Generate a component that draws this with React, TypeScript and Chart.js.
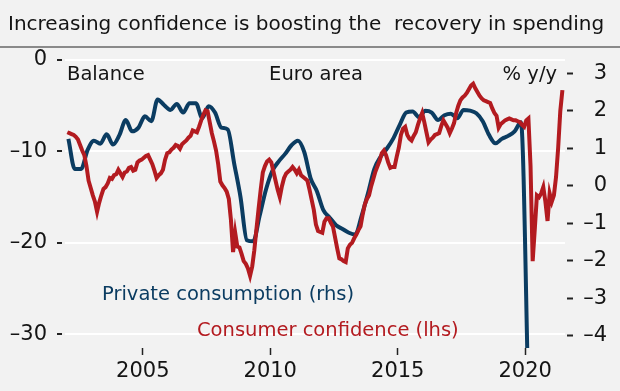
import React, { useEffect, useRef } from "react";
import { Chart, registerables } from "chart.js";

Chart.register(...registerables);

const TITLE = "Increasing confidence is boosting the  recovery in spending";
const START_YEAR = 2002;

// Euro area consumer confidence, balance, monthly from Jan 2002 (lhs)
const CONFIDENCE: number[] = [
  -7.9, -8.0, -8.1, -8.2, -8.4, -8.7, -9.3, -9.9, -10.4, -11.6, -13.2, -14.0,
  -14.8, -15.5, -16.6, -15.6, -14.8, -14.1, -13.9, -13.5, -12.9, -13.0, -12.6, -12.5,
  -12.0, -12.4, -12.8, -12.3, -12.2, -11.8, -11.7, -12.1, -12.0, -11.2, -11.0, -10.9,
  -10.7, -10.5, -10.4, -10.9, -11.4, -12.1, -12.9, -12.6, -12.4, -12.0, -10.9, -10.2,
  -10.1, -9.8, -9.6, -9.3, -9.4, -9.7, -9.2, -9.0, -8.8, -8.5, -8.3, -7.7,
  -7.8, -7.9, -7.3, -6.6, -6.0, -5.5, -5.6, -6.8, -8.0, -8.9, -9.9, -11.4,
  -13.3, -13.7, -14.0, -14.4, -15.2, -17.5, -21.0, -18.9, -20.4, -20.5, -21.2, -22.0,
  -22.3, -22.8, -23.6, -22.6, -20.8, -18.5, -16.3, -14.2, -12.3, -11.6, -11.1, -10.9,
  -11.2, -12.2, -13.2, -14.2, -15.0, -13.8, -12.9, -12.4, -12.2, -12.0, -11.7, -12.0,
  -12.4, -12.0, -12.6, -12.8, -13.0, -13.2, -14.2, -15.3, -16.4, -18.0, -18.7, -18.8,
  -18.9, -17.7, -17.3, -17.3, -17.8, -18.2, -19.4, -20.6, -21.7, -21.8, -22.0, -22.1,
  -20.6, -20.2, -20.0, -19.5, -19.1, -18.6, -18.2, -16.9, -15.8, -15.2, -14.8, -13.8,
  -13.0, -12.2, -11.6, -11.0, -10.2, -9.9, -10.4, -11.2, -11.8, -11.7, -11.7, -10.6,
  -9.6, -8.2, -7.5, -7.3, -8.2, -8.6, -8.8, -8.3, -7.9, -7.1, -6.4, -5.8,
  -6.8, -7.9, -9.0, -8.7, -8.5, -8.2, -8.1, -8.0, -7.2, -6.6, -7.0, -7.4,
  -8.0, -7.5, -6.9, -5.8, -5.0, -4.4, -4.1, -3.9, -3.6, -3.2, -2.8, -2.6,
  -3.1, -3.5, -3.9, -4.2, -4.4, -4.5, -4.6, -4.7, -5.3, -5.8, -6.1, -7.4,
  -7.0, -6.8, -6.6, -6.5, -6.4, -6.5, -6.6, -6.6, -6.7, -6.8, -7.1, -7.3,
  -6.6, -6.4, -11.6, -22.0, -18.5, -14.8, -15.0, -14.6, -13.9, -15.5, -17.6, -14.6,
  -15.5, -14.8, -12.8, -9.6, -5.6, -3.3,
];

// Euro area private consumption, % y/y, quarterly from 2002 Q1 (rhs)
const CONSUMPTION: number[] = [
  1.25, 0.45, 0.45, 0.95,
  1.2, 1.12, 1.37, 1.1,
  1.35, 1.75, 1.45, 1.55,
  1.85, 1.72, 2.3, 2.15,
  2.02, 2.18, 1.95, 2.2,
  2.2, 1.8, 2.12, 1.95,
  1.55, 1.5, 0.6, -0.3,
  -1.45, -1.48, -0.8, -0.1,
  0.4, 0.65, 0.85, 1.08,
  1.2, 0.9, 0.2, -0.15,
  -0.65, -0.85, -1.05, -1.15,
  -1.25, -1.3, -0.8, -0.2,
  0.45, 0.78, 1.0, 1.27,
  1.63, 1.95, 1.98, 1.83,
  2.0, 1.95, 1.75, 1.88,
  1.92, 1.8, 2.02, 2.0,
  1.93, 1.72, 1.35, 1.13,
  1.25, 1.33, 1.45, 1.69,
  -4.5, -14.5,
];

const X_TICKS = [2005, 2010, 2015, 2020];
const LEFT_TICKS = [0, -10, -20, -30];
const RIGHT_TICKS = [3, 2, 1, 0, -1, -2, -3, -4];

const RED = "#b31b20";
const BLUE = "#0b3c61";
const INK = "#141414";
const BG = "#f2f2f2";
const FONT = "'DejaVu Sans', 'Noto Sans', sans-serif";

const NOTES = [
  { text: "Balance", x: 67, y: 74.5, align: "left", color: INK },
  { text: "Euro area", x: 316, y: 74.5, align: "center", color: INK },
  { text: "% y/y", x: 557, y: 74.5, align: "right", color: INK },
  { text: "Private consumption (rhs)", x: 102, y: 295, align: "left", color: BLUE },
  { text: "Consumer confidence (lhs)", x: 197, y: 330.5, align: "left", color: RED },
];

const fmt = (v: number) => (v < 0 ? "\u2013" + Math.abs(v) : String(v));

const framePlugin = {
  id: "frame",
  beforeDraw(chart: any) {
    const { ctx, width, height, chartArea } = chart;
    ctx.save();
    ctx.fillStyle = BG;
    ctx.fillRect(0, 0, width, height);
    ctx.strokeStyle = "#8a8a8a";
    ctx.lineWidth = 2;
    ctx.beginPath();
    ctx.moveTo(0, chartArea.top - 13);
    ctx.lineTo(width, chartArea.top - 13);
    ctx.stroke();
    ctx.restore();
  },
};

const notesPlugin = {
  id: "notes",
  afterDatasetsDraw(chart: any) {
    const { ctx } = chart;
    ctx.save();
    ctx.font = `19.5px ${FONT}`;
    ctx.textBaseline = "middle";
    for (const n of NOTES) {
      ctx.fillStyle = n.color;
      ctx.textAlign = n.align as CanvasTextAlign;
      ctx.fillText(n.text, n.x, n.y);
    }
    ctx.restore();
  },
};

export default function App() {
  const ref = useRef<HTMLCanvasElement | null>(null);

  useEffect(() => {
    const canvas = ref.current;
    if (!canvas) return;
    const tickFont = { family: FONT, size: 21 };
    const chart = new Chart(canvas, {
      type: "line",
      data: {
        datasets: [
          {
            label: "Consumer confidence (lhs)",
            data: CONFIDENCE.map((v, i) => ({ x: START_YEAR + (i + 0.5) / 12, y: v })),
            yAxisID: "yL",
            borderColor: RED,
            borderWidth: 4,
            pointRadius: 0,
            tension: 0,
          },
          {
            label: "Private consumption (rhs)",
            data: CONSUMPTION.map((v, q) => ({ x: START_YEAR + (3 * q + 1) / 12, y: v })),
            yAxisID: "yR",
            borderColor: BLUE,
            borderWidth: 4,
            pointRadius: 0,
            cubicInterpolationMode: "monotone",
          },
        ],
      },
      options: {
        responsive: false,
        animation: false,
        events: [],
        layout: { padding: { left: 8, right: 13, top: 0, bottom: 0 } },
        plugins: {
          legend: { display: false },
          tooltip: { enabled: false },
          title: {
            display: true,
            text: TITLE,
            align: "start",
            color: INK,
            font: { family: FONT, size: 20, weight: "normal", lineHeight: 1.2 },
            padding: { top: 13, bottom: 23 },
          },
        },
        scales: {
          x: {
            type: "linear",
            min: 2001.95,
            max: 2021.56,
            afterBuildTicks: (s: any) => {
              s.ticks = X_TICKS.map((v) => ({ value: v }));
            },
            afterFit: (s: any) => {
              s.height = 43;
            },
            grid: { drawOnChartArea: false, drawTicks: true, tickLength: 7, tickColor: "#222", tickWidth: 1.5 },
            border: { display: false },
            ticks: {
              padding: 4,
              color: INK,
              font: tickFont,
              maxRotation: 0,
              autoSkip: false,
              callback: (v: any) => String(v),
            },
          },
          yL: {
            type: "linear",
            position: "left",
            min: -31.5,
            max: 0,
            afterBuildTicks: (s: any) => {
              s.ticks = LEFT_TICKS.map((v) => ({ value: v }));
            },
            afterFit: (s: any) => {
              s.width = 57;
            },
            grid: {
              color: "#ffffff",
              lineWidth: 2,
              drawTicks: true,
              tickLength: 8,
              tickColor: "#222",
              tickWidth: 2,
              tickBorderDash: [5, 3],
            },
            border: { display: false },
            ticks: { padding: 10, color: INK, font: tickFont, callback: (v: any) => fmt(Number(v)) },
          },
          yR: {
            type: "linear",
            position: "right",
            min: -4.32,
            max: 3.35,
            afterBuildTicks: (s: any) => {
              s.ticks = RIGHT_TICKS.map((v) => ({ value: v }));
            },
            afterFit: (s: any) => {
              s.width = 42;
            },
            grid: {
              drawOnChartArea: false,
              drawTicks: true,
              tickLength: 8,
              tickColor: "#222",
              tickWidth: 2,
              tickBorderDash: [6, 2],
              tickBorderDashOffset: 6,
            },
            border: { display: false },
            ticks: {
              padding: 3,
              crossAlign: "far",
              color: INK,
              font: tickFont,
              callback: (v: any) => fmt(Number(v)),
            },
          },
        },
      } as any,
      plugins: [framePlugin, notesPlugin],
    });
    return () => chart.destroy();
  }, []);

  return (
    <div style={{ position: "fixed", left: 0, top: 0, width: 620, height: 391, background: BG }}>
      <canvas ref={ref} width={620} height={391} style={{ display: "block" }} />
    </div>
  );
}
